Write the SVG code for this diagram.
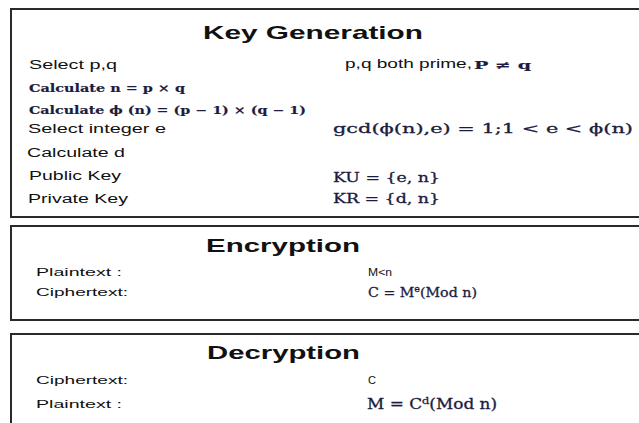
<svg xmlns="http://www.w3.org/2000/svg" width="639" height="423" viewBox="0 0 639 423">
  <style>
    .panel { fill: #ffffff; stroke: #2a2a2a; stroke-width: 2; }
    .title { font-family: "Liberation Sans", Arial, sans-serif; font-weight: bold; font-size: 18.5px; fill: #111111; }
    .txt { font-family: "Liberation Sans", Arial, sans-serif; font-size: 12px; fill: #111111; }
    .txt-s { font-family: "Liberation Sans", Arial, sans-serif; font-size: 11.5px; fill: #111111; }
    .math { font-family: "DejaVu Serif", "Liberation Serif", serif; fill: #1c1c40; stroke: #1c1c40; stroke-width: 0.3; }
    .mb { font-weight: bold; stroke-width: 0.15; }
  </style>
  <rect width="639" height="423" fill="#ffffff"/>

  <!-- Key generation panel -->
  <g id="key-generation">
    <rect class="panel" x="11" y="9" width="640" height="208"/>
    <text class="title" x="203" y="39" textLength="220" lengthAdjust="spacingAndGlyphs">Key Generation</text>

    <text class="txt" x="29" y="69" textLength="88" lengthAdjust="spacingAndGlyphs">Select p,q</text>
    <text class="txt" x="345" y="68" textLength="127" lengthAdjust="spacingAndGlyphs">p,q both prime,</text>
    <text class="math mb" x="474" y="69" font-size="11.5" textLength="57" lengthAdjust="spacingAndGlyphs">P ≠ q</text>

    <text class="math mb" x="29" y="92" font-size="10.3" textLength="156" lengthAdjust="spacingAndGlyphs">Calculate n = p  × q</text>
    <text class="math mb" x="29" y="114" font-size="10.3" textLength="277" lengthAdjust="spacingAndGlyphs">Calculate ϕ (n) = (p − 1) × (q − 1)</text>

    <text class="txt" x="28" y="133" textLength="138" lengthAdjust="spacingAndGlyphs">Select integer e</text>
    <text class="math" x="333" y="133" font-size="13.5" textLength="300" lengthAdjust="spacingAndGlyphs">gcd(ϕ(n),e) = 1;1 &lt; e &lt; ϕ(n)</text>

    <text class="txt" x="27" y="157" textLength="98" lengthAdjust="spacingAndGlyphs">Calculate d</text>

    <text class="txt" x="29" y="180" textLength="92" lengthAdjust="spacingAndGlyphs">Public Key</text>
    <text class="math" x="333" y="182" font-size="12.5" textLength="107" lengthAdjust="spacingAndGlyphs">KU = {e, n}</text>

    <text class="txt" x="28" y="203" textLength="100" lengthAdjust="spacingAndGlyphs">Private Key</text>
    <text class="math" x="333" y="203" font-size="12.5" textLength="107" lengthAdjust="spacingAndGlyphs">KR = {d, n}</text>
  </g>

  <!-- Encryption panel -->
  <g id="encryption">
    <rect class="panel" x="11" y="226" width="640" height="94"/>
    <text class="title" x="206" y="252" textLength="154" lengthAdjust="spacingAndGlyphs">Encryption</text>
    <text class="txt-s" x="36" y="276" textLength="86" lengthAdjust="spacingAndGlyphs">Plaintext  :</text>
    <text class="txt-s" x="368" y="276" textLength="24" lengthAdjust="spacingAndGlyphs">M&lt;n</text>
    <text class="txt-s" x="36" y="296" textLength="92" lengthAdjust="spacingAndGlyphs">Ciphertext:</text>
    <text class="math" x="368" y="297" font-size="13.5" textLength="109" lengthAdjust="spacingAndGlyphs">C = M<tspan font-size="9" dy="-5">e</tspan><tspan dy="5">(Mod n)</tspan></text>
  </g>

  <!-- Decryption panel -->
  <g id="decryption">
    <rect class="panel" x="11" y="334" width="640" height="100"/>
    <text class="title" x="207" y="359" textLength="153" lengthAdjust="spacingAndGlyphs">Decryption</text>
    <text class="txt-s" x="36" y="384" textLength="92" lengthAdjust="spacingAndGlyphs">Ciphertext:</text>
    <text class="txt-s" x="368" y="384" textLength="8" lengthAdjust="spacingAndGlyphs">C</text>
    <text class="txt-s" x="36" y="408" textLength="86" lengthAdjust="spacingAndGlyphs">Plaintext  :</text>
    <text class="math" x="367" y="409" font-size="14" textLength="130" lengthAdjust="spacingAndGlyphs">M = C<tspan font-size="9.5" dy="-5.5">d</tspan><tspan dy="5.5">(Mod n)</tspan></text>
  </g>
</svg>
